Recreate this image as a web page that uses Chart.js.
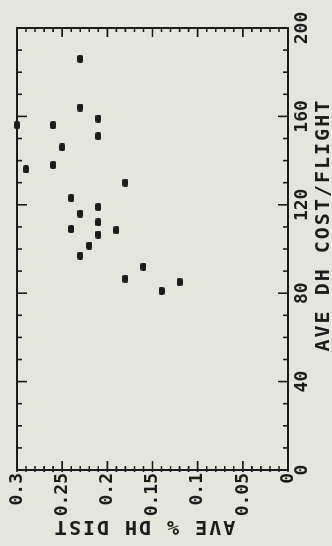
<!DOCTYPE html>
<html>
<head>
<meta charset="utf-8">
<script src="https://cdn.jsdelivr.net/npm/chart.js@4/dist/chart.umd.min.js"></script>
<style>
  html, body { margin: 0; padding: 0; width: 332px; height: 546px; overflow: hidden; background: #e4e5dd; }
  #wrap { position: absolute; left: 0; top: 0; width: 546px; height: 332px;
          transform-origin: 0 0; transform: translate(0px, 546px) rotate(-90deg); }
  canvas { display: block; }
</style>
</head>
<body>
<div id="wrap"><canvas id="c" width="546" height="332"></canvas></div>
<script>
// ---- data ----
const costPerFlight = [186, 164, 159, 156, 156, 151, 146, 138, 136, 130, 123, 119, 116, 112, 109, 108.5, 106.5, 101.5, 97, 92, 86.5, 81, 85];
const dhDistPct     = [0.23, 0.23, 0.21, 0.30, 0.26, 0.21, 0.25, 0.26, 0.29, 0.18, 0.24, 0.21, 0.23, 0.21, 0.24, 0.19, 0.21, 0.22, 0.23, 0.16, 0.18, 0.14, 0.12];
const xTickLabels = ['0', '40', '80', '120', '160', '200'];
const yTickLabels = ['0', '0.05', '0.1', '0.15', '0.2', '0.25', '0.3'];
const xTitle = 'AVE DH COST/FLIGHT';
const yTitle = 'AVE % DH DIST';

const INK = '#1c1c1c';
const FONT = '"DejaVu Sans Mono", "Liberation Mono", monospace';

// marker: small rounded block
const mk = document.createElement('canvas');
mk.width = 8; mk.height = 6;
(function () {
  const g = mk.getContext('2d');
  g.fillStyle = INK;
  g.beginPath();
  g.roundRect(0, 0, 8, 6, 2);
  g.fill();
})();

const frameTicks = {
  id: 'frameTicks',
  afterDatasetsDraw(chart) {
    const { ctx, chartArea: a, scales: { x, y } } = chart;
    ctx.save();
    ctx.strokeStyle = INK;
    ctx.lineWidth = 2;
    ctx.strokeRect(a.left, a.top, a.right - a.left, a.bottom - a.top);
    ctx.lineWidth = 1.6;
    ctx.beginPath();
    for (let v = 0; v <= 200; v += 10) {
      const px = x.getPixelForValue(v);
      const len = v % 40 === 0 ? 10 : 5;
      ctx.moveTo(px, a.bottom + 1); ctx.lineTo(px, a.bottom - len);
      ctx.moveTo(px, a.top - 1); ctx.lineTo(px, a.top + len);
    }
    for (let i = 0; i <= 30; i++) {
      const py = y.getPixelForValue(i / 100);
      const len = i % 5 === 0 ? 9 : 4;
      ctx.moveTo(a.left - 2, py); ctx.lineTo(a.left + len, py);
      ctx.moveTo(a.right + 1, py); ctx.lineTo(a.right - len, py);
    }
    ctx.stroke();

    ctx.fillStyle = INK;
    ctx.font = 'bold 20px ' + FONT;
    try { ctx.letterSpacing = '2px'; } catch (e) {}
    ctx.textAlign = 'center';
    ctx.textBaseline = 'alphabetic';
    ctx.fillText(xTitle, a.left + (a.right - a.left) * 0.554, a.bottom + 41);

    ctx.translate(25, a.top + (a.bottom - a.top) * 0.469);
    ctx.rotate(-Math.PI / 2);
    ctx.fillText(yTitle, 0, 0);
    ctx.restore();
  }
};

new Chart(document.getElementById('c'), {
  type: 'scatter',
  data: {
    datasets: [{
      data: costPerFlight.map((c, i) => ({ x: c, y: dhDistPct[i] })),
      pointStyle: mk,
      pointRadius: 4,
      pointHoverRadius: 4,
      clip: false
    }]
  },
  options: {
    responsive: false,
    animation: false,
    devicePixelRatio: 1,
    layout: { padding: { top: 17, right: 28, left: 0, bottom: 0 } },
    plugins: { legend: { display: false }, tooltip: { enabled: false }, title: { display: false } },
    events: [],
    scales: {
      x: {
        type: 'linear', position: 'bottom', min: 0, max: 200,
        afterFit(s) { s.height = 44; },
        grid: { display: false, drawTicks: false },
        border: { display: false },
        ticks: {
          stepSize: 40, padding: 4, maxRotation: 0, autoSkip: false,
          color: INK, font: { family: FONT, size: 18, weight: 'bold' },
          callback: (v, i) => xTickLabels[i]
        }
      },
      y: {
        type: 'linear', position: 'left', min: 0, max: 0.3,
        afterFit(s) { s.width = 76; },
        grid: { display: false, drawTicks: false },
        border: { display: false },
        ticks: {
          stepSize: 0.05, padding: 3, autoSkip: false,
          color: INK, font: { family: FONT, size: 18, weight: 'bold' },
          callback: (v, i) => yTickLabels[i]
        }
      }
    }
  },
  plugins: [frameTicks]
});
</script>
</body>
</html>
